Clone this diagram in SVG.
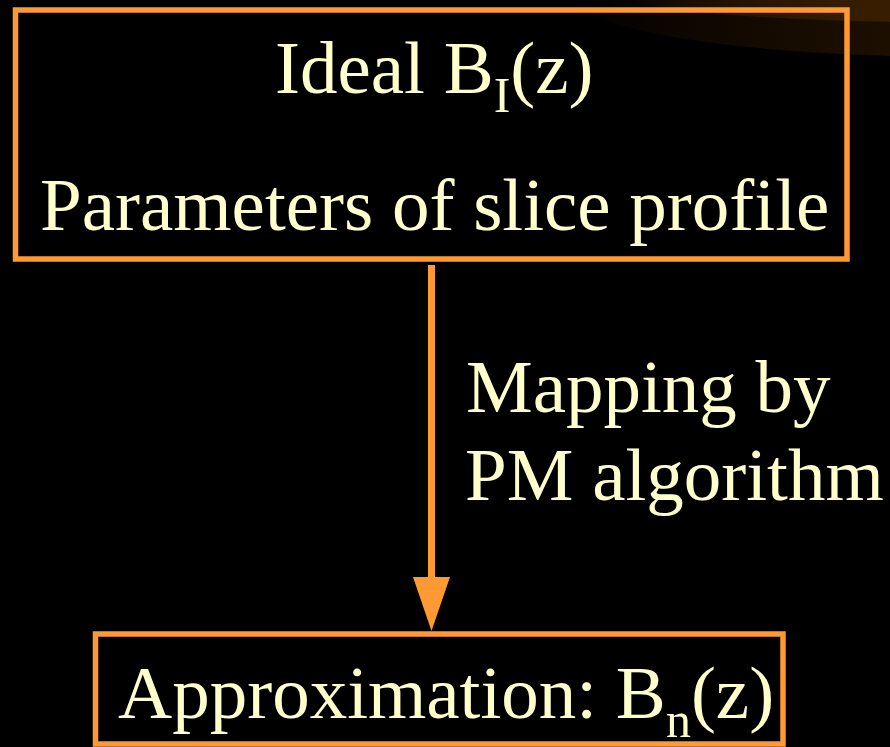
<svg xmlns="http://www.w3.org/2000/svg" width="890" height="747" viewBox="0 0 890 747">
<defs>
<linearGradient id="glow1" x1="0" y1="0" x2="1" y2="0">
<stop offset="0" stop-color="#2a1600" stop-opacity="0"/>
<stop offset="0.45" stop-color="#1e1000"/>
<stop offset="1" stop-color="#362006"/>
</linearGradient>
<linearGradient id="glow2" x1="0" y1="0" x2="1" y2="0">
<stop offset="0" stop-color="#4a2800" stop-opacity="0"/>
<stop offset="0.5" stop-color="#3a2000"/>
<stop offset="1" stop-color="#552e04"/>
</linearGradient>
<style>
.box{fill:none;stroke:#FF9933;stroke-width:5.5}
.t{font-family:"Liberation Serif","Times New Roman",serif;fill:#FFFFCC;font-size:75px}
.sub{font-size:50px}
</style>
</defs>
<rect width="890" height="747" fill="#000"/>
<g id="glow">
<ellipse cx="960" cy="-5" rx="390" ry="62" fill="url(#glow1)"/>
<ellipse cx="940" cy="-8" rx="320" ry="30" fill="url(#glow2)"/>
</g>
<g id="connectors">
<line x1="431.5" y1="265" x2="431.5" y2="590" stroke="#FF9933" stroke-width="7"/>
<path d="M413,577 L450,577 L431.5,631 Z" fill="#FF9933"/>
<text class="t" x="466" y="412">Mapping by</text>
<text class="t" x="465" y="500">PM algorithm</text>
</g>
<g id="node-ideal">
<rect class="box" x="15.5" y="10" width="831.5" height="249"/>
<text class="t" x="275" y="93">Ideal B<tspan class="sub" dy="19">I</tspan><tspan dy="-19">(z)</tspan></text>
<text class="t" x="40" y="230">Parameters of slice profile</text>
</g>
<g id="node-approx">
<rect class="box" x="95.5" y="634" width="687.5" height="110"/>
<text class="t" x="118" y="718">Approximation: B<tspan class="sub" dy="19">n</tspan><tspan dy="-19">(z)</tspan></text>
</g>
</svg>
